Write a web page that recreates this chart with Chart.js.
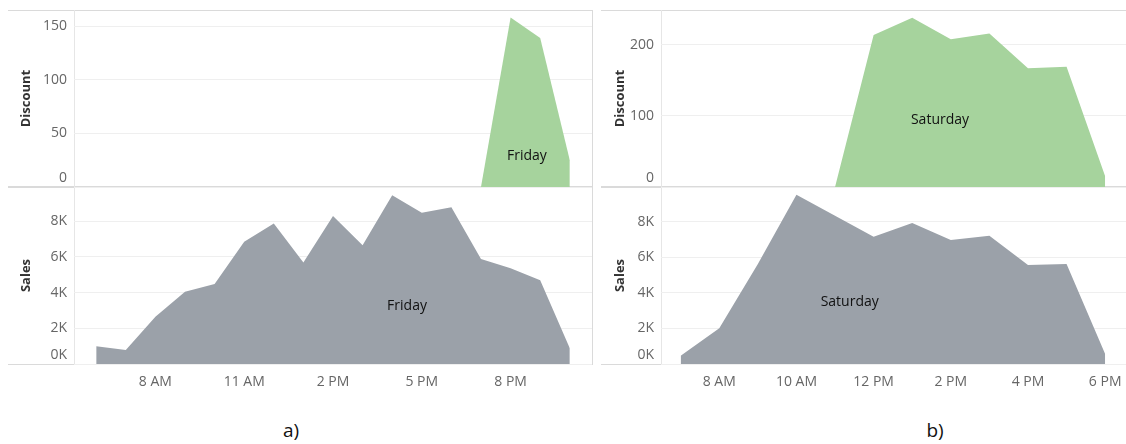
<!DOCTYPE html>
<html><head><meta charset="utf-8">
<script src="https://cdn.jsdelivr.net/npm/chart.js@4/dist/chart.umd.min.js"></script>
<style>
html,body{margin:0;padding:0;background:#fff;overflow:hidden;width:1126px;height:444px;}
#wrap{position:relative;width:1126px;height:444px;overflow:hidden;}
canvas{position:absolute;}
.ln{position:absolute;background:#dadada;}
.cap{position:absolute;font-family:"Open Sans",sans-serif;font-size:19px;line-height:24px;color:#111;transform:translateX(-50%);}
</style></head><body><div id="wrap">
<div class="ln" style="left:8px;top:10px;width:584px;height:1px"></div>
<div class="ln" style="left:8px;top:186px;width:584px;height:2px"></div>
<div class="ln" style="left:8px;top:364px;width:584px;height:1px"></div>
<div class="ln" style="left:74px;top:10px;width:1px;height:354px;background:#e6e6e6"></div>
<div class="ln" style="left:592px;top:10px;width:1px;height:355px"></div>
<div class="ln" style="left:601px;top:10px;width:525px;height:1px"></div>
<div class="ln" style="left:601px;top:186px;width:525px;height:2px"></div>
<div class="ln" style="left:601px;top:364px;width:525px;height:1px"></div>
<div class="ln" style="left:661px;top:10px;width:1px;height:354px;background:#e6e6e6"></div>
<div class="cap" style="left:291px;top:418px">a)</div>
<div class="cap" style="left:935px;top:418px">b)</div>
</div>
<script>
// ---- data ----
const fridayDiscountHours = [19, 20, 21, 22];
const fridayDiscount = [0, 158, 139, 25];
const fridaySalesHours = [6, 7, 8, 9, 10, 11, 12, 13, 14, 15, 16, 17, 18, 19, 20, 21, 22];
const fridaySales = [1000, 780, 2650, 4050, 4480, 6850, 7880, 5690, 8290, 6660, 9460, 8470, 8790, 5880, 5360, 4700, 880];
const saturdayDiscountHours = [11, 12, 13, 14, 15, 16, 17, 18];
const saturdayDiscount = [0, 214, 238, 208, 216, 167, 169, 15];
const saturdaySalesHours = [7, 8, 9, 10, 11, 12, 13, 14, 15, 16, 17, 18];
const saturdaySales = [470, 2010, 5630, 9530, 8350, 7170, 7940, 6980, 7220, 5570, 5630, 560];

const fridayTickHours = [8, 11, 14, 17, 20];
const fridayTickLabels = ['8 AM', '11 AM', '2 PM', '5 PM', '8 PM'];
const saturdayTickHours = [8, 10, 12, 14, 16, 18];
const saturdayTickLabels = ['8 AM', '10 AM', '12 PM', '2 PM', '4 PM', '6 PM'];
const fridayDiscountTicks = [0, 50, 100, 150];
const fridayDiscountTickLabels = ['0', '50', '100', '150'];
const saturdayDiscountTicks = [0, 100, 200];
const saturdayDiscountTickLabels = ['0', '100', '200'];
const salesTicks = [0, 2000, 4000, 6000, 8000];
const salesTickLabels = ['0K', '2K', '4K', '6K', '8K'];

// ---- drawing ----
Chart.defaults.font.family = '"Open Sans", sans-serif';
const GREEN = 'rgb(166,211,157)';
const GRAY = 'rgb(155,161,169)';
const wrap = document.getElementById('wrap');

const labelPlugin = {
  id: 'markLabel',
  afterDatasetsDraw(chart, args, opts) {
    const {ctx, scales} = chart;
    ctx.save();
    ctx.font = '14px "Open Sans", sans-serif';
    ctx.fillStyle = '#111';
    ctx.textAlign = 'center';
    ctx.textBaseline = 'middle';
    ctx.fillText(opts.text, scales.x.getPixelForValue(opts.x), scales.y.getPixelForValue(opts.y));
    ctx.restore();
  }
};

function makeChart(o) {
  const c = document.createElement('canvas');
  c.width = o.w; c.height = o.h;
  c.style.left = o.left + 'px'; c.style.top = o.top + 'px';
  c.style.width = o.w + 'px'; c.style.height = o.h + 'px';
  wrap.appendChild(c);
  new Chart(c, {
    type: 'line',
    data: {datasets: [{
      data: o.hours.map((h, i) => ({x: h, y: o.values[i]})),
      fill: 'origin', backgroundColor: o.color, borderWidth: 0,
      borderColor: 'rgba(0,0,0,0)', pointRadius: 0, tension: 0
    }]},
    options: {
      responsive: false, animation: false, events: [],
      layout: {padding: {top: o.padTop, bottom: o.padBottom, left: 0, right: o.padRight}},
      plugins: {legend: {display: false}, tooltip: {enabled: false}, markLabel: o.label},
      scales: {
        x: {
          type: 'linear', min: o.xmin, max: o.xmax, display: o.showX,
          grid: {display: false}, border: {display: false},
          afterBuildTicks: s => { s.ticks = o.xTicks.map(v => ({value: v})); },
          afterFit: s => { s.height = o.showX ? 30 : 0; },
          ticks: {autoSkip: false, maxRotation: 0, color: '#666', font: {size: 14}, padding: 2,
            callback: v => o.xLabels[o.xTicks.indexOf(v)]}
        },
        y: {
          min: 0, max: o.ymax,
          afterBuildTicks: s => { s.ticks = o.yTicks.map(v => ({value: v})); },
          afterFit: s => { s.width = o.yw; },
          grid: {color: '#efefef', drawTicks: false}, border: {display: false},
          ticks: {padding: 7, color: '#666', font: {size: 14, lineHeight: 1.3}, autoSkip: false,
            callback: v => { const l = o.yLabels[o.yTicks.indexOf(v)]; return v === 0 ? [l, ''] : l; }},
          title: {display: true, text: o.title, color: '#333', font: {size: 13, weight: 'bold'},
            padding: {top: 11, bottom: 0}}
        }
      }
    },
    plugins: [labelPlugin]
  });
}

// Panel a (Friday)
makeChart({left: 7, top: -20, w: 586, h: 237, padTop: 30, padBottom: 30, padRight: 1, yw: 67,
  xmin: 5.25, xmax: 22.75, showX: false, xTicks: fridayTickHours, xLabels: fridayTickLabels,
  hours: fridayDiscountHours, values: fridayDiscount, color: GREEN, ymax: 165,
  yTicks: fridayDiscountTicks, yLabels: fridayDiscountTickLabels, title: 'Discount',
  label: {text: 'Friday', x: 20.55, y: 29}});
makeChart({left: 7, top: 157, w: 586, h: 237, padTop: 30, padBottom: 0, padRight: 1, yw: 67,
  xmin: 5.25, xmax: 22.75, showX: true, xTicks: fridayTickHours, xLabels: fridayTickLabels,
  hours: fridaySalesHours, values: fridaySales, color: GRAY, ymax: 9920,
  yTicks: salesTicks, yLabels: salesTickLabels, title: 'Sales',
  label: {text: 'Friday', x: 16.5, y: 3270}});
// Panel b (Saturday)
makeChart({left: 601, top: -20, w: 525, h: 237, padTop: 30, padBottom: 30, padRight: 0, yw: 60,
  xmin: 6.49, xmax: 18.54, showX: false, xTicks: saturdayTickHours, xLabels: saturdayTickLabels,
  hours: saturdayDiscountHours, values: saturdayDiscount, color: GREEN, ymax: 249,
  yTicks: saturdayDiscountTicks, yLabels: saturdayDiscountTickLabels, title: 'Discount',
  label: {text: 'Saturday', x: 13.72, y: 94}});
makeChart({left: 601, top: 157, w: 525, h: 237, padTop: 30, padBottom: 0, padRight: 0, yw: 60,
  xmin: 6.49, xmax: 18.54, showX: true, xTicks: saturdayTickHours, xLabels: saturdayTickLabels,
  hours: saturdaySalesHours, values: saturdaySales, color: GRAY, ymax: 9970,
  yTicks: salesTicks, yLabels: salesTickLabels, title: 'Sales',
  label: {text: 'Saturday', x: 11.38, y: 3480}});
</script>
</body></html>
